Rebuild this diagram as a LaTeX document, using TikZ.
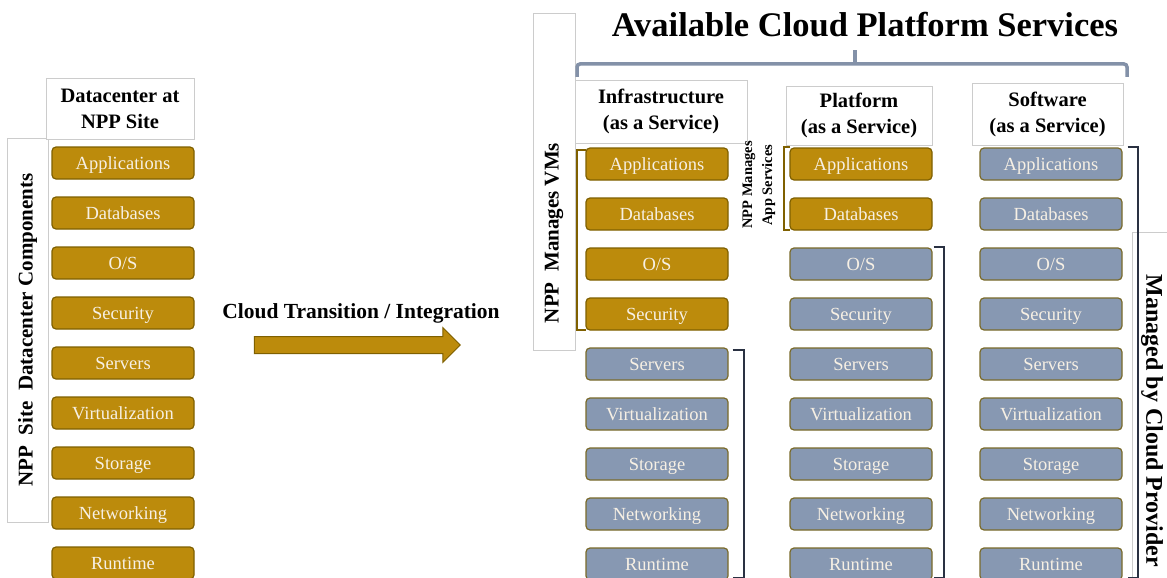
\documentclass[tikz,border=0pt]{standalone}
\usepackage{fontspec}
\setmainfont{Liberation Serif}
\usetikzlibrary{shapes.arrows}

\definecolor{nppgold}{HTML}{BC8B0C}
\definecolor{goldedge}{HTML}{7F6000}
\definecolor{cloudblue}{HTML}{8798B2}
\definecolor{cloudedge}{HTML}{7A6A2A}
\definecolor{bracketdark}{HTML}{2A3142}
\definecolor{framegrey}{HTML}{CCCCCC}
\definecolor{bracegrey}{HTML}{8391A8}
\definecolor{labelwhite}{HTML}{F7F0E4}

\begin{document}
\begin{tikzpicture}[x=1pt,y=-1pt,
  comp/.style={rounded corners=4pt,line width=1.2pt,minimum width=142,minimum height=32,
    inner sep=0pt,text height=15pt,text depth=3pt,text=labelwhite,font=\fontsize{18.5}{20}\selectfont},
  npp node/.style={comp,fill=nppgold,draw=goldedge},
  cloud node/.style={comp,fill=cloudblue,draw=cloudedge},
  head node/.style={draw=framegrey,fill=white,align=center,inner sep=0pt,font=\bfseries\fontsize{20.5}{26}\selectfont},
  side frame/.style={draw=framegrey,inner sep=0pt},
  side text/.style={font=\bfseries\fontsize{21}{24}\selectfont},
  move arrow/.style={single arrow,draw=goldedge,fill=nppgold,line width=1pt,inner sep=8pt,
    minimum height=206,minimum width=34,single arrow head extend=9pt},
  npp bracket/.style={draw=goldedge,line width=2pt},
  cloud bracket/.style={draw=bracketdark,line width=2pt}]

  \useasboundingbox (0,0) rectangle (1167,578);
  \clip (0,0) rectangle (1167,578);
  \fill[white] (0,0) rectangle (1167,578);

  % frames and headings
  \node[side frame,side text,rotate=90,minimum width=384,minimum height=41] (siteframe) at (27.5,330) {NPP~ Site~ Datacenter Components};
  \node[head node,minimum width=148,minimum height=61] (dchead) at (120,108.5) {Datacenter at\\NPP Site};
  \node[side frame,rotate=90,minimum width=337,minimum height=42] (vmframe) at (554,181.5) {};
  \node[side text,rotate=90] (vmtext) at (554,233) {NPP~ Manages VMs};
  \node[head node,minimum width=172,minimum height=63] (iaashead) at (661,111.5) {Infrastructure\\(as a Service)};
  \node[head node,minimum width=146,minimum height=59] (paashead) at (859,115.5) {Platform\\(as a Service)};
  \node[head node,minimum width=151,minimum height=62] (saashead) at (1047.5,114) {Software\\(as a Service)};
  \node[side frame,rotate=-90,minimum width=368,minimum height=48] (cpframe) at (1156,416) {};
  \node[font=\bfseries\fontsize{24}{26}\selectfont,rotate=-90] (cptext) at (1152,421) {Managed by Cloud Provider};
  \node[rotate=90,align=center,font=\bfseries\fontsize{14.5}{20}\selectfont] (apptext) at (759,185) {NPP Manages\\App Services};
  \node[font=\bfseries\fontsize{34.5}{36}\selectfont] (title) at (865,25) {Available Cloud Platform Services};

  % NPP site
  \node[npp node] (l1) at (123,163) {Applications};
  \node[npp node] (l2) at (123,213) {Databases};
  \node[npp node] (l3) at (123,263) {O/S};
  \node[npp node] (l4) at (123,313) {Security};
  \node[npp node] (l5) at (123,363) {Servers};
  \node[npp node] (l6) at (123,413) {Virtualization};
  \node[npp node] (l7) at (123,463) {Storage};
  \node[npp node] (l8) at (123,513) {Networking};
  \node[npp node] (l9) at (123,563) {Runtime};

  % transition
  \node[font=\bfseries\fontsize{21.5}{24}\selectfont] (movelbl) at (361,313) {Cloud Transition / Integration};
  \node[move arrow] (move) at (353,345) {};

  % IaaS
  \node[npp node] (i1) at (657,164) {Applications};
  \node[npp node] (i2) at (657,214) {Databases};
  \node[npp node] (i3) at (657,264) {O/S};
  \node[npp node] (i4) at (657,314) {Security};
  \node[cloud node] (i5) at (657,364) {Servers};
  \node[cloud node] (i6) at (657,414) {Virtualization};
  \node[cloud node] (i7) at (657,464) {Storage};
  \node[cloud node] (i8) at (657,514) {Networking};
  \node[cloud node] (i9) at (657,564) {Runtime};

  % PaaS
  \node[npp node] (p1) at (861,164) {Applications};
  \node[npp node] (p2) at (861,214) {Databases};
  \node[cloud node] (p3) at (861,264) {O/S};
  \node[cloud node] (p4) at (861,314) {Security};
  \node[cloud node] (p5) at (861,364) {Servers};
  \node[cloud node] (p6) at (861,414) {Virtualization};
  \node[cloud node] (p7) at (861,464) {Storage};
  \node[cloud node] (p8) at (861,514) {Networking};
  \node[cloud node] (p9) at (861,564) {Runtime};

  % SaaS
  \node[cloud node] (s1) at (1051,164) {Applications};
  \node[cloud node] (s2) at (1051,214) {Databases};
  \node[cloud node] (s3) at (1051,264) {O/S};
  \node[cloud node] (s4) at (1051,314) {Security};
  \node[cloud node] (s5) at (1051,364) {Servers};
  \node[cloud node] (s6) at (1051,414) {Virtualization};
  \node[cloud node] (s7) at (1051,464) {Storage};
  \node[cloud node] (s8) at (1051,514) {Networking};
  \node[cloud node] (s9) at (1051,564) {Runtime};

  % brackets
  \draw[bracegrey,line width=3.5pt,rounded corners=3pt] (577,77) -- (577,64) -- (1127,64) -- (1127,77);
  \draw[bracegrey,line width=3.5pt] (855,64) -- (855,50);
  \draw[npp bracket] ([xshift=1,yshift=-3]i1.north west) -- ++(-9,0) |- ([xshift=1,yshift=1]i4.south west);
  \draw[npp bracket] ([xshift=1]p1.north west) -- ++(-6,0) |- ([xshift=1,yshift=1]p2.south west);
  \draw[cloud bracket] ([xshift=4,yshift=-3]i5.north east) -- ++(11,0) |- ([xshift=4,yshift=3]i9.south east);
  \draw[cloud bracket] ([xshift=1]p3.north east) -- ++(10,0) |- ([xshift=1,yshift=3]p9.south east);
  \draw[cloud bracket] ([xshift=5]s1.north east) -- ++(10,0) |- ([xshift=5,yshift=3]s9.south east);

\end{tikzpicture}
\end{document}
